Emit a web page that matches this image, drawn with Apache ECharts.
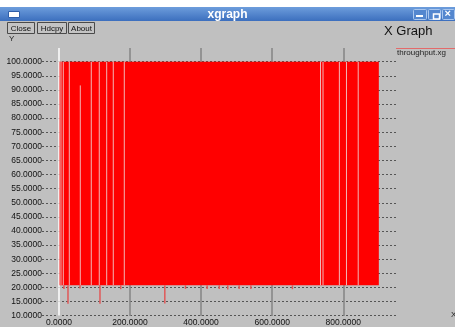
<!DOCTYPE html>
<html>
<head>
<meta charset="utf-8">
<script src="https://cdn.jsdelivr.net/npm/echarts@6/dist/echarts.min.js"></script>
<style>
html,body{margin:0;padding:0;background:#fff;}
#main{width:455px;height:327px;}
</style>
</head>
<body>
<div id="main"></div>
<script>
// throughput.xg : the trace swings 20.8 <-> 100 so fast it reads as a solid block
var blockX = [2, 900];
var blockY = [20.8, 100];
// places where the trace leaves a hole in the block
var gapX = [5.9, 12.4, 29.3, 60.2, 91.1, 113.6, 134.5, 153, 184, 736, 743, 789, 809, 842];
var gapTop = [100, 100, 100, 91.6, 100, 100, 100, 100, 100, 100, 100, 100, 100, 100];
// drops below the block
var spikeX = [14.3, 25.6, 59.4, 115.6, 174, 298, 356, 417, 451, 475, 507, 540, 657];
var spikeLow = [19.5, 14.2, 19.6, 14.2, 19.4, 14.3, 19.5, 19.5, 19.5, 19.3, 19.5, 19.5, 19.4];
var yMin = 10, yMax = 100, yStep = 5;
var xStep = 200;

var font = 'Liberation Sans';
var chart = echarts.init(document.getElementById('main'));

var gapData = [];
for (var i = 0; i < gapX.length; i++) gapData.push([gapX[i], blockY[0], gapTop[i]]);
var spikeData = [];
for (var j = 0; j < spikeX.length; j++) spikeData.push([spikeX[j], blockY[0], spikeLow[j]]);

function vline(color, width) {
	return function (params, api) {
		var p0 = api.coord([api.value(0), api.value(1)]);
		var p1 = api.coord([api.value(0), api.value(2)]);
		return {
			type: 'line',
			shape: {x1: p0[0], y1: p0[1], x2: p1[0], y2: p1[1]},
			style: {stroke: color, lineWidth: width}
		};
	};
}

function button(x, w, label) {
	return {
		type: 'group', left: x, top: 22,
		children: [
			{type: 'rect', shape: {x: 0, y: 0, width: w, height: 11},
				style: {fill: '#c4c4c4', stroke: '#4a4a4a', lineWidth: 1}},
			{type: 'text', x: w / 2, y: 6,
				style: {text: label, font: '8px ' + font, fill: '#111', align: 'center', verticalAlign: 'middle'}}
		]
	};
}

var option = {
	backgroundColor: '#c0c0c0',
	animation: false,
	grid: [
		{left: 42, right: 59, top: 61.7, bottom: 11.3},
		{left: 58.9, right: 59, top: 48, bottom: 10}
	],
	xAxis: [
		{gridIndex: 0, type: 'value', min: -47.5, max: 948.3, show: false},
		{gridIndex: 1, type: 'value', min: 0, max: 948.3, interval: xStep,
			axisLine: {show: false}, axisTick: {show: false},
			axisLabel: {
				margin: 2, fontSize: 8.5, fontFamily: font, color: '#111', showMaxLabel: false,
				formatter: function (v) { return v.toFixed(4); }
			},
			splitLine: {show: true, showMaxLine: false,
				lineStyle: {color: ['#ffffff', '#858585', '#858585', '#858585', '#858585'], width: 1.5}}
		}
	],
	yAxis: [
		{gridIndex: 0, type: 'value', min: yMin, max: yMax, interval: yStep,
			axisLine: {show: false}, axisTick: {show: false},
			axisLabel: {
				margin: 0, fontSize: 8.5, fontFamily: font, color: '#111',
				formatter: function (v) { return v.toFixed(4); }
			},
			splitLine: {show: true, lineStyle: {color: '#555555', width: 1, type: [2, 2]}}
		},
		{gridIndex: 1, type: 'value', min: 0, max: 1, show: false}
	],
	series: [
		{
			type: 'custom', xAxisIndex: 0, yAxisIndex: 0,
			data: [[blockX[0], blockY[0], blockX[1], blockY[1]]],
			renderItem: function (params, api) {
				var a = api.coord([api.value(0), api.value(3)]);
				var b = api.coord([api.value(2), api.value(1)]);
				return {type: 'rect', shape: {x: a[0], y: a[1], width: b[0] - a[0], height: b[1] - a[1]},
					style: {fill: '#ff0000'}};
			}
		},
		{type: 'custom', xAxisIndex: 0, yAxisIndex: 0, data: gapData, renderItem: vline('#f1b6b6', 1)},
		{type: 'custom', xAxisIndex: 0, yAxisIndex: 0, data: spikeData, renderItem: vline('#e05858', 1.5)}
	],
	graphic: [
		{type: 'rect', left: 0, top: 0, shape: {width: 455, height: 7}, style: {fill: '#ffffff'}},
		{type: 'rect', left: 0, top: 7, shape: {width: 455, height: 14},
			style: {fill: new echarts.graphic.LinearGradient(0, 0, 0, 1, [
				{offset: 0, color: '#6d9ddc'}, {offset: 1, color: '#3c6fbe'}])}},
		{type: 'rect', left: 8, top: 11, shape: {width: 11, height: 6},
			style: {fill: '#ffffff', stroke: '#2f5ea8', lineWidth: 1}},
		{type: 'text', left: 'center', top: 9,
			style: {text: 'xgraph', font: 'bold 12px ' + font, fill: '#ffffff'}},
		{type: 'rect', left: 413, top: 9, shape: {width: 13, height: 10, r: 1},
			style: {fill: '#5487cf', stroke: '#a9c6ee', lineWidth: 1}},
		{type: 'rect', left: 428, top: 9, shape: {width: 12, height: 10, r: 1},
			style: {fill: '#5487cf', stroke: '#a9c6ee', lineWidth: 1}},
		{type: 'rect', left: 442, top: 9, shape: {width: 12, height: 10, r: 1},
			style: {fill: '#5487cf', stroke: '#a9c6ee', lineWidth: 1}},
		{type: 'line', shape: {x1: 416, y1: 16, x2: 423, y2: 16}, style: {stroke: '#fff', lineWidth: 2}},
		{type: 'rect', left: 431, top: 11.5, shape: {width: 6, height: 5}, style: {fill: 'none', stroke: '#fff', lineWidth: 1.5}},
		{type: 'text', left: 444.5, top: 8.5, style: {text: '×', font: 'bold 11px ' + font, fill: '#fff'}},
		button(7, 27, 'Close'),
		button(37, 29, 'Hdcpy'),
		button(68, 26, 'About'),
		{type: 'text', left: 9, top: 35, style: {text: 'Y', font: '8px ' + font, fill: '#222'}},
		{type: 'text', left: 384, top: 25, style: {text: 'X Graph', font: '13px ' + font, fill: '#111'}},
		{type: 'line', shape: {x1: 396, y1: 48.5, x2: 455, y2: 48.5}, style: {stroke: '#e36a6a', lineWidth: 1.2}},
		{type: 'text', left: 397, top: 49, style: {text: 'throughput.xg', font: '8px ' + font, fill: '#222'}},
		{type: 'text', left: 451, top: 311, style: {text: 'X', font: '8px ' + font, fill: '#222'}}
	]
};
chart.setOption(option);
</script>
</body>
</html>
